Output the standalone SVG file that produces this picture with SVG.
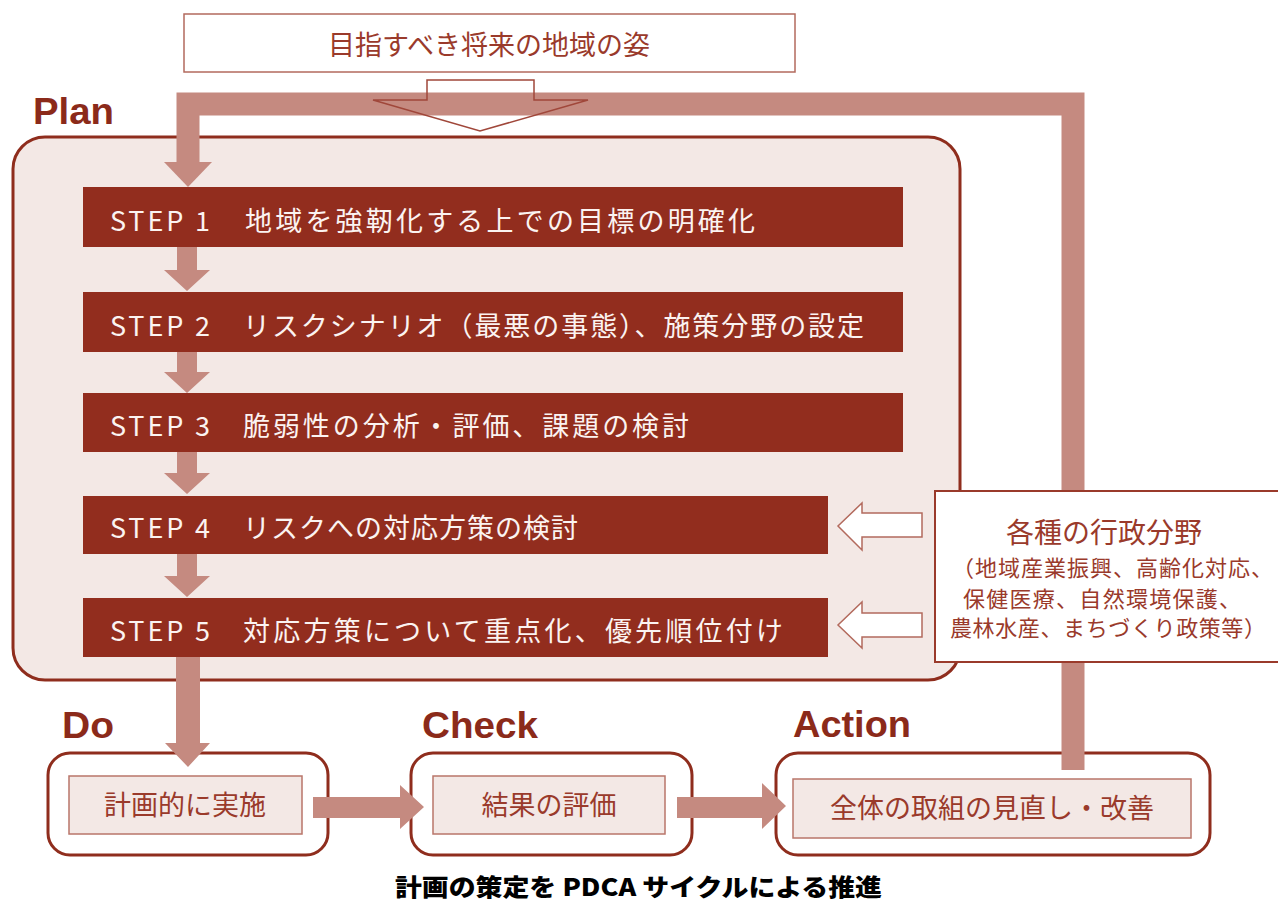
<svg xmlns="http://www.w3.org/2000/svg" width="1278" height="904" viewBox="0 0 1278 904">
<style>
.lbl{font-family:"Liberation Sans","DejaVu Sans",sans-serif;font-weight:bold;font-size:36px;fill:#8b2a1a}
.jp{font-family:"Noto Sans CJK JP",sans-serif;fill:#9a3a2b}
.step{fill:#922d1e}
.stxt{font-family:"Noto Sans CJK JP",sans-serif;font-size:27px;fill:#fbf3f1}
.sarrow{fill:#c58a80}
.band{fill:none;stroke:#c58a80;stroke-width:23}
.hollow{fill:#ffffff;stroke:#b36a5d;stroke-width:1.5}
.outer{fill:#ffffff;stroke:#8f2d1d;stroke-width:3}
.inner{fill:#f3e8e5;stroke:#b9766a;stroke-width:1.5}
</style>
<rect width="1278" height="904" fill="#ffffff"/>

<!-- top goal box -->
<g id="goal">
<rect x="184" y="14" width="611" height="58" fill="#ffffff" stroke="#b36a5d" stroke-width="1.5"/>
<text class="jp" x="489" y="55" font-size="27" text-anchor="middle">目指すべき将来の地域の姿</text>
</g>

<!-- plan container -->
<g id="plan">
<rect x="13" y="137" width="947" height="543" rx="32" fill="#f3e8e5" stroke="#8f2d1d" stroke-width="3"/>
<text class="lbl" x="33" y="124" textLength="81" lengthAdjust="spacingAndGlyphs">Plan</text>
</g>

<!-- steps -->
<g id="step1">
<rect class="step" x="83" y="187" width="820" height="60"/>
<text class="stxt" x="110" y="231" textLength="100">STEP 1</text>
<text class="stxt" x="245" y="231" textLength="510">地域を強靭化する上での目標の明確化</text>
</g>
<g id="step2">
<rect class="step" x="83" y="292" width="820" height="60"/>
<text class="stxt" x="110" y="336" textLength="100">STEP 2</text>
<text class="stxt" x="243" y="336" textLength="621">リスクシナリオ（最悪の事態）、施策分野の設定</text>
</g>
<g id="step3">
<rect class="step" x="83" y="393" width="820" height="59"/>
<text class="stxt" x="110" y="436" textLength="100">STEP 3</text>
<text class="stxt" x="243" y="436" textLength="446">脆弱性の分析・評価、課題の検討</text>
</g>
<g id="step4">
<rect class="step" x="83" y="496" width="745" height="58"/>
<text class="stxt" x="110" y="538" textLength="100">STEP 4</text>
<text class="stxt" x="243" y="538" textLength="335">リスクへの対応方策の検討</text>
</g>
<g id="step5">
<rect class="step" x="83" y="598" width="745" height="59"/>
<text class="stxt" x="110" y="641" textLength="100">STEP 5</text>
<text class="stxt" x="243" y="641" textLength="540">対応方策について重点化、優先順位付け</text>
</g>

<!-- Do -->
<g id="do">
<text class="lbl" x="62" y="738" textLength="52" lengthAdjust="spacingAndGlyphs">Do</text>
<rect class="outer" x="48" y="753" width="280" height="102" rx="22"/>
<rect class="inner" x="69" y="776" width="233" height="58"/>
<text class="jp" x="185" y="815" font-size="27" text-anchor="middle">計画的に実施</text>
</g>

<!-- Check -->
<g id="check">
<text class="lbl" x="422" y="738" textLength="116" lengthAdjust="spacingAndGlyphs">Check</text>
<rect class="outer" x="411" y="753" width="281" height="102" rx="22"/>
<rect class="inner" x="433" y="776" width="232" height="58"/>
<text class="jp" x="549" y="815" font-size="27" text-anchor="middle">結果の評価</text>
</g>

<!-- Action -->
<g id="action">
<text class="lbl" x="793" y="737" textLength="118" lengthAdjust="spacingAndGlyphs">Action</text>
<rect class="outer" x="776" y="753" width="434" height="102" rx="22"/>
<rect class="inner" x="793" y="779" width="398" height="59"/>
<text class="jp" x="992" y="818" font-size="27" text-anchor="middle">全体の取組の見直し・改善</text>
</g>

<!-- connectors -->
<g id="connectors">
<polygon points="427,80 534,80 534,100 588,100 480,131 373,100 427,100" fill="#ffffff"/>
<polyline class="band" points="1073,770 1073,104 188,104 188,164"/>
<polygon class="sarrow" points="164,162 212,162 188,187"/>
<polygon points="427,80 534,80 534,100 588,100 480,131 373,100 427,100" fill="none" stroke="#a0473a" stroke-width="1.5"/>
<polygon class="sarrow" points="177,247 197,247 197,270 210,270 187,291 164,270 177,270"/>
<polygon class="sarrow" points="177,352 197,352 197,372 210,372 187,393 164,372 177,372"/>
<polygon class="sarrow" points="177,452 197,452 197,473 210,473 187,494 164,473 177,473"/>
<polygon class="sarrow" points="177,554 197,554 197,576 210,576 187,597 164,576 177,576"/>
<polygon class="sarrow" points="176,657 200,657 200,743 210,743 188,767 165,743 176,743"/>
<polygon class="sarrow" points="313,797 400,797 400,785 424,807 400,829 400,818 313,818"/>
<polygon class="sarrow" points="677,797 762,797 762,783 786,806 762,829 762,818 677,818"/>
<polygon class="hollow" points="922,513 862,513 862,503 838,526 862,550 862,537 922,537"/>
<polygon class="hollow" points="922,613 862,613 862,602 838,625 862,648 862,637 922,637"/>
</g>

<!-- side box (drawn over the loop band) -->
<g id="admin">
<rect x="935" y="491" width="350" height="171" fill="#ffffff" stroke="#9a3a2b" stroke-width="2"/>
<text class="jp" x="1104" y="543" font-size="28" text-anchor="middle">各種の行政分野</text>
<text class="jp" x="952" y="576" font-size="22" textLength="321">（地域産業振興、高齢化対応、</text>
<text class="jp" x="963" y="607" font-size="22" textLength="278">保健医療、自然環境保護、</text>
<text class="jp" x="950" y="636" font-size="22" textLength="316">農林水産、まちづくり政策等）</text>
</g>

<!-- caption -->
<text x="395" y="896" font-family="'Noto Sans CJK JP',sans-serif" font-weight="900" font-size="24" fill="#000000" textLength="487" lengthAdjust="spacingAndGlyphs">計画の策定を PDCA サイクルによる推進</text>
</svg>
